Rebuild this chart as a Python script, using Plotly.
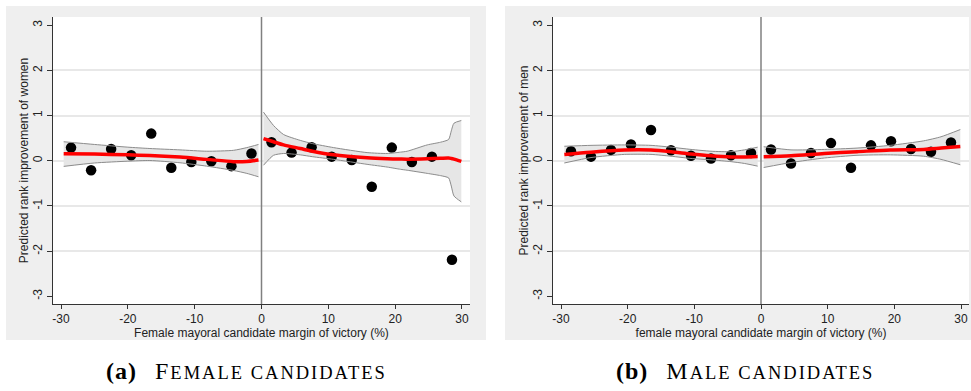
import plotly.graph_objects as go

# ---------------- data ----------------
BIN_X_LEFT = [-28.5, -25.5, -22.5, -19.5, -16.5, -13.5, -10.5, -7.5, -4.5, -1.5]
BIN_X_RIGHT = [1.5, 4.5, 7.5, 10.5, 13.5, 16.5, 19.5, 22.5, 25.5, 28.5]

# (a) female candidates: binned means
FEM_PTS_LEFT = [0.29, -0.21, 0.26, 0.12, 0.60, -0.155, -0.03, -0.01, -0.12, 0.16]
FEM_PTS_RIGHT = [0.41, 0.18, 0.30, 0.09, 0.015, -0.575, 0.29, -0.03, 0.09, -2.19]

# (a) fitted polynomial and confidence interval, left of cutoff
FEM_FIT_X_LEFT = [-29.6, -25.0, -20.0, -16.7, -12.2, -8.2, -4.2, -2.2, -0.45]
FEM_FIT_LEFT = [0.155, 0.147, 0.13, 0.117, 0.08, 0.03, -0.02, -0.015, 0.015]
FEM_UP_LEFT = [0.42, 0.36, 0.30, 0.27, 0.24, 0.21, 0.23, 0.29, 0.36]
FEM_LO_LEFT = [-0.125, -0.05, -0.01, 0.005, -0.045, -0.12, -0.215, -0.28, -0.355]

# (a) right of cutoff
FEM_FIT_X_RIGHT = [0.3, 1.8, 3.3, 5.8, 7.6, 10.8, 15.8, 18.8, 20.8, 21.8, 24.8, 26.8, 28.0, 28.4, 28.8, 29.9]
FEM_FIT_RIGHT = [0.49, 0.42, 0.35, 0.27, 0.21, 0.13, 0.066, 0.045, 0.037, 0.035, 0.044, 0.055, 0.06, 0.05, 0.035, -0.015]
FEM_UP_RIGHT = [1.075, 0.78, 0.58, 0.45, 0.38, 0.29, 0.18, 0.16, 0.19, 0.21, 0.35, 0.41, 0.47, 0.66, 0.83, 0.89]
FEM_LO_RIGHT = [-0.10, 0.12, 0.16, 0.13, 0.09, 0.03, -0.08, -0.14, -0.19, -0.21, -0.28, -0.33, -0.38, -0.56, -0.78, -0.91]

# (b) male candidates: binned means
MAL_PTS_LEFT = [0.21, 0.09, 0.24, 0.36, 0.68, 0.23, 0.11, 0.05, 0.12, 0.17]
MAL_PTS_RIGHT = [0.25, -0.06, 0.17, 0.39, -0.155, 0.34, 0.43, 0.26, 0.20, 0.405]

MAL_FIT_X_LEFT = [-29.5, -25.5, -20.5, -16.5, -13.5, -10.5, -7.5, -4.5, -2.5, -0.5]
MAL_FIT_LEFT = [0.14, 0.19, 0.235, 0.235, 0.20, 0.15, 0.11, 0.085, 0.085, 0.095]
MAL_UP_LEFT = [0.32, 0.34, 0.35, 0.34, 0.30, 0.25, 0.21, 0.20, 0.24, 0.30]
MAL_LO_LEFT = [-0.05, 0.07, 0.14, 0.14, 0.10, 0.05, 0.02, -0.02, -0.06, -0.12]

MAL_FIT_X_RIGHT = [0.4, 4.5, 9.5, 14.4, 19.4, 24.4, 27.0, 29.9]
MAL_FIT_RIGHT = [0.09, 0.11, 0.16, 0.20, 0.24, 0.25, 0.28, 0.315]
MAL_UP_RIGHT = [0.31, 0.24, 0.25, 0.28, 0.34, 0.44, 0.53, 0.69]
MAL_LO_RIGHT = [-0.15, -0.04, 0.06, 0.12, 0.13, 0.10, 0.03, -0.09]

X_TICKS = [-30, -20, -10, 0, 10, 20, 30]
X_TICK_LABELS = ["-30", "-20", "-10", "0", "10", "20", "30"]
Y_TICKS = [-3, -2, -1, 0, 1, 2, 3]
Y_TICK_LABELS = ["-3", "-2", "-1", "0", "1", "2", "3"]
Y_GRID = [-2, -1, 0, 1, 2]
CUTOFF = 0

X_TITLES = ["Female mayoral candidate margin of victory (%)",
            "female mayoral candidate margin of victory (%)"]
Y_TITLES = ["Predicted rank improvement of women",
            "Predicted rank improvement of men"]
SC = "font-size:18.5px;letter-spacing:2px"
CAPTIONS = [f"<span style='letter-spacing:1px'><b>(a)</b></span>&nbsp;&nbsp;&nbsp;<span style='letter-spacing:2px'>F</span><span style='{SC}'>EMALE CANDIDATES</span>",
            f"<span style='letter-spacing:1px'><b>(b)</b></span>&nbsp;&nbsp;&nbsp;<span style='letter-spacing:2px'>M</span><span style='{SC}'>ALE CANDIDATES</span>"]

# ---------------- styling ----------------
W, H = 971, 391
BAND_FILL = "#e6e6e6"
BAND_LINE = "#8c8c8c"
RED = "#ff0000"
AX = "#333333"
SANS = "Liberation Sans, Arial, sans-serif"
SERIF = "Liberation Serif, Times New Roman, serif"

fig = go.Figure()

panels = [
    dict(xa="x", ya="y",
         pts=[(BIN_X_LEFT, FEM_PTS_LEFT), (BIN_X_RIGHT, FEM_PTS_RIGHT)],
         fits=[(FEM_FIT_X_LEFT, FEM_FIT_LEFT, FEM_UP_LEFT, FEM_LO_LEFT),
               (FEM_FIT_X_RIGHT, FEM_FIT_RIGHT, FEM_UP_RIGHT, FEM_LO_RIGHT)]),
    dict(xa="x2", ya="y2",
         pts=[(BIN_X_LEFT, MAL_PTS_LEFT), (BIN_X_RIGHT, MAL_PTS_RIGHT)],
         fits=[(MAL_FIT_X_LEFT, MAL_FIT_LEFT, MAL_UP_LEFT, MAL_LO_LEFT),
               (MAL_FIT_X_RIGHT, MAL_FIT_RIGHT, MAL_UP_RIGHT, MAL_LO_RIGHT)]),
]

for p in panels:
    # shaded band
    for fx, fy, up, lo in p["fits"]:
        fig.add_trace(go.Scatter(x=fx, y=lo, mode="lines", line=dict(width=0),
                                 xaxis=p["xa"], yaxis=p["ya"], hoverinfo="skip"))
        fig.add_trace(go.Scatter(x=fx, y=up, mode="lines", line=dict(width=0),
                                 fill="tonexty", fillcolor=BAND_FILL,
                                 xaxis=p["xa"], yaxis=p["ya"], hoverinfo="skip"))
    # binned means
    for bx, by in p["pts"]:
        fig.add_trace(go.Scatter(x=bx, y=by, mode="markers",
                                 marker=dict(color="black", size=10.5),
                                 xaxis=p["xa"], yaxis=p["ya"]))
    # band outlines and fitted line
    for fx, fy, up, lo in p["fits"]:
        for b in (up, lo):
            fig.add_trace(go.Scatter(x=fx, y=b, mode="lines",
                                     line=dict(color=BAND_LINE, width=1, shape="spline", smoothing=0.6),
                                     xaxis=p["xa"], yaxis=p["ya"], hoverinfo="skip"))
        fig.add_trace(go.Scatter(x=fx, y=fy, mode="lines",
                                 line=dict(color=RED, width=3.5, shape="spline", smoothing=0.8),
                                 xaxis=p["xa"], yaxis=p["ya"]))

# domains (pixels -> paper)
top = 1 - 17 / H
bot = 1 - 304 / H
dom_x = [[53 / W, 470 / W], [553 / W, 969 / W]]

shapes = []
# grey panels
for x0, x1 in [(6, 486), (505, 971)]:
    shapes.append(dict(type="rect", xref="paper", yref="paper",
                       x0=x0 / W, x1=x1 / W, y0=1 - 340 / H, y1=1 - 6 / H,
                       fillcolor="#efefef", line=dict(width=0), layer="below"))
for i, (xa, ya) in enumerate([("x", "y"), ("x2", "y2")]):
    shapes.append(dict(type="rect", xref=f"{xa} domain", yref=f"{ya} domain",
                       x0=0, x1=1, y0=0, y1=1, fillcolor="white",
                       line=dict(width=0), layer="below"))
    shapes.append(dict(type="line", xref=xa, yref=f"{ya} domain",
                       x0=CUTOFF, x1=CUTOFF, y0=0, y1=1,
                       line=dict(color="#808080", width=1.5), layer="above"))

axis_common_x = dict(range=[-31.2, 31.2], tickmode="array", tickvals=X_TICKS,
                     ticktext=X_TICK_LABELS,
                     ticks="outside", ticklen=4, tickcolor=AX, tickwidth=1,
                     showline=True, linecolor=AX, linewidth=1, showgrid=False,
                     zeroline=False, tickfont=dict(family=SANS, size=12, color="#222"),
                     title=dict(font=dict(family=SANS, size=12, color="#222"), standoff=0))
axis_common_y = dict(range=[-3.17, 3.18], tickmode="array", tickvals=Y_TICKS,
                     ticktext=Y_TICK_LABELS, tickangle=-90,
                     ticks="outside", ticklen=5, tickcolor=AX, tickwidth=1,
                     showline=True, linecolor=AX, linewidth=1, showgrid=False,
                     minor=dict(tickmode="array", tickvals=Y_GRID, showgrid=True,
                                gridcolor="#e8e8e8", gridwidth=1.5, ticks=""),
                     zeroline=False, tickfont=dict(family=SANS, size=12, color="#222"),
                     title=dict(font=dict(family=SANS, size=12, color="#222"), standoff=0))

layout = dict(
    width=W, height=H, margin=dict(l=0, r=0, t=0, b=0),
    paper_bgcolor="white", plot_bgcolor="white", showlegend=False,
    shapes=shapes,
)
fig.update_layout(**layout)
fig.update_layout(
    xaxis=dict(axis_common_x, domain=dom_x[0], anchor="y", title_text=X_TITLES[0]),
    xaxis2=dict(axis_common_x, domain=dom_x[1], anchor="y2", title_text=X_TITLES[1]),
    yaxis=dict(axis_common_y, domain=[bot, top], anchor="x", title_text=Y_TITLES[0]),
    yaxis2=dict(axis_common_y, domain=[bot, top], anchor="x2", title_text=Y_TITLES[1]),
)

for txt, cx in zip(CAPTIONS, [246 / W, 745 / W]):
    fig.add_annotation(text=txt, xref="paper", yref="paper", x=cx, y=1 - 371 / H,
                       xanchor="center", yanchor="middle", showarrow=False,
                       font=dict(family=SERIF, size=24, color="black"))

fig.write_html("out.html", config={"displayModeBar": False},
               post_script="document.body.style.margin='0';document.body.style.overflow='hidden';")
